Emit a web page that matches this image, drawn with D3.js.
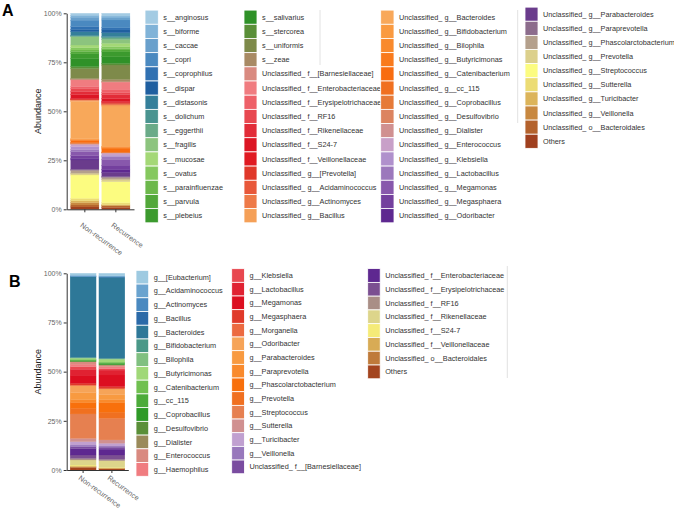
<!DOCTYPE html>
<html>
<head>
<meta charset="utf-8">
<script src="https://cdn.jsdelivr.net/npm/d3@7"></script>
<style>
  html, body { margin: 0; padding: 0; background: #fff; }
  svg { display: block; font-family: "Liberation Sans", Arial, sans-serif; }
</style>
</head>
<body>
<svg id="chart" width="674" height="509"></svg>
<script>
// ---------------- DATA ----------------
const groups = ["Non-recurrence", "Recurrence"];
const yTicks = [0, 0.25, 0.5, 0.75, 1];
const yTickLabels = ["0%", "25%", "50%", "75%", "100%"];

const catsA = ["s__anginosus","s__biforme","s__caccae","s__copri","s__coprophilus","s__dispar","s__distasonis","s__dolichum","s__eggerthii","s__fragilis","s__mucosae","s__ovatus","s__parainfluenzae","s__parvula","s__plebeius",
"s__salivarius","s__stercorea","s__uniformis","s__zeae","Unclassified_ f__[Barnesiellaceae]","Unclassified_ f__Enterobacteriaceae","Unclassified_ f__Erysipelotrichaceae","Unclassified_ f__RF16","Unclassified_ f__Rikenellaceae","Unclassified_ f__S24-7","Unclassified_ f__Veillonellaceae","Unclassified_ g__[Prevotella]","Unclassified_ g__Acidaminococcus","Unclassified_ g__Actinomyces","Unclassified_ g__Bacillus",
"Unclassified_ g__Bacteroides","Unclassified_ g__Bifidobacterium","Unclassified_ g__Bilophila","Unclassified_ g__Butyricimonas","Unclassified_ g__Catenibacterium","Unclassified_ g__cc_115","Unclassified_ g__Coprobacillus","Unclassified_ g__Desulfovibrio","Unclassified_ g__Dialister","Unclassified_ g__Enterococcus","Unclassified_ g__Klebsiella","Unclassified_ g__Lactobacillus","Unclassified_ g__Megamonas","Unclassified_ g__Megasphaera","Unclassified_ g__Odoribacter",
"Unclassified_ g__Parabacteroides","Unclassified_ g__Paraprevotella","Unclassified_ g__Phascolarctobacterium","Unclassified_ g__Prevotella","Unclassified_ g__Streptococcus","Unclassified_ g__Sutterella","Unclassified_ g__Turicibacter","Unclassified_ g__Veillonella","Unclassified_ o__Bacteroidales","Others"];

const colorsA = ["#a3cbe3","#80b3d8","#69a0cc","#4a89c0","#3171b2","#1f5fa0","#347f9a","#4a9490","#6aab88","#8cc47e","#a4d876","#85c85e","#6cb84b","#52a83a","#3c9a2e",
"#2f9128","#5a8f38","#7e8a4a","#a88a64","#d98a80","#f07c80","#ee6068","#e84850","#e22c38","#dc1624","#e01a22","#e0382a","#e8583a","#ee7a48","#f5a058",
"#f8a85a","#fa9a40","#f98a2c","#f97a1c","#f86c10","#f07020","#e67a38","#dc8460","#d09090","#c8a0c8","#b090cc","#9c78bc","#8858ac","#74409e","#5e2890",
"#6a3c8c","#8c6c8c","#b4a08c","#dcd08c","#fcfc80","#ecdc74","#dcb45a","#c88840","#b4622c","#a0401e"];

const nonRecA = [1.0,1.0,1.5,3.2,1.5,1.2,1.8,0.4,0.3,4.3,1.3,1.2,0.8,1.2,2.5,
4.0,1.0,5.0,0.5,0.3,3.3,1.0,1.7,1.5,1.9,0.4,0.2,0.2,0.3,0.5,
19.0,0.3,0.2,0.5,1.0,0.2,0.2,0.2,0.4,1.0,1.5,1.1,2.0,1.4,0.8,
4.8,0.5,1.5,0.9,11.9,1.2,1.0,1.2,1.0,1.2];
const recA = [1.4,1.0,1.0,4.0,1.1,1.4,2.0,0.6,0.8,2.0,1.7,1.0,0.7,1.0,2.5,
3.3,0.9,7.3,1.2,0.2,4.0,1.4,1.0,2.0,1.5,0.6,0.5,0.4,0.3,0.5,
20.5,0.3,0.3,0.8,1.6,0.2,0.1,0.1,0.2,1.0,0.7,1.4,3.0,2.1,1.7,
2.0,0.4,1.0,1.2,10.7,1.0,0.4,0.3,0.8,0.9];

const catsB = ["g__[Eubacterium]","g__Acidaminococcus","g__Actinomyces","g__Bacillus","g__Bacteroides","g__Bifidobacterium","g__Bilophila","g__Butyricimonas","g__Catenibacterium","g__cc_115","g__Coprobacillus","g__Desulfovibrio","g__Dialister","g__Enterococcus","g__Haemophilus",
"g__Klebsiella","g__Lactobacillus","g__Megamonas","g__Megasphaera","g__Morganella","g__Odoribacter","g__Parabacteroides","g__Paraprevotella","g__Phascolarctobacterium","g__Prevotella","g__Streptococcus","g__Sutterella","g__Turicibacter","g__Veillonella","Unclassified_ f__[Barnesiellaceae]",
"Unclassified_ f__Enterobacteriaceae","Unclassified_ f__Erysipelotrichaceae","Unclassified_ f__RF16","Unclassified_ f__Rikenellaceae","Unclassified_ f__S24-7","Unclassified_ f__Veillonellaceae","Unclassified_ o__Bacteroidales","Others"];

const colorsB = ["#9ecae1","#6aa3cf","#4a89c0","#2b6aa8","#2e7898","#4a9888","#80c080","#a0d878","#70c050","#4cab3a","#2f9a28","#5a8f38","#9a8a5a","#d98a80","#f07c80",
"#e84850","#e02232","#dc0e20","#e03a2a","#ec6a40","#f6a458","#f89a40","#f98a2c","#f8700c","#f07020","#e68050","#d09090","#c0a0d0","#9878bc","#7a4ca0",
"#5e2890","#7b4f91","#a98e86","#ddd58b","#f5eb78","#d8ab55","#bf7a3a","#a3441e"];

const nonRecB = [1.0,0.5,0.2,0.1,40.9,0.2,0.3,0.5,0.3,0.4,0.3,0.2,0.1,1.2,1.3,
1.3,3.4,3.7,0.9,0.3,3.5,3.5,1.5,3.0,2.9,12.4,1.7,1.7,0.8,1.0,
3.3,1.7,0.8,2.6,0.5,0.3,0.5,1.2];
const recB = [1.2,0.6,0.1,0.1,41.2,0.2,0.3,1.4,0.3,0.4,0.6,0.2,0.1,0.8,1.0,
0.7,2.5,5.9,0.9,0.3,2.8,2.5,1.5,5.0,3.1,11.0,1.7,1.4,0.6,1.0,
3.0,2.2,0.7,3.4,0.3,0.1,0.3,0.6];

// ---------------- DRAW ----------------
const svg = d3.select("#chart");

function drawPanel(p) {
  const g = svg.append("g");
  const rows = groups.map((grp, gi) => {
    const r = { group: grp };
    p.cats.forEach((c, i) => { r[c] = p.series[gi][i]; });
    return r;
  });
  const keys = p.cats.slice().reverse();
  const stacked = d3.stack().keys(keys).offset(d3.stackOffsetExpand)(rows);
  const color = d3.scaleOrdinal().domain(p.cats).range(p.colors);

  const x = d3.scaleBand().domain(groups).range([p.x0, p.x1])
    .paddingInner(p.padIn).paddingOuter(p.padOut);
  const y = d3.scaleLinear().domain([0, 1]).range([p.yBottom, p.yTop]);

  g.append("g").selectAll("g").data(stacked).join("g")
    .attr("fill", d => color(d.key))
    .attr("stroke", d => color(d.key)).attr("stroke-width", 0.25)
    .selectAll("rect").data(d => d).join("rect")
    .attr("x", d => x(d.data.group))
    .attr("width", x.bandwidth())
    .attr("y", d => y(d[1]))
    .attr("height", d => Math.max(0, y(d[0]) - y(d[1])));

  // y axis
  const yAxis = d3.axisLeft(y).tickValues(yTicks)
    .tickFormat((d, i) => yTickLabels[i]).tickSize(3).tickSizeOuter(0);
  const ya = g.append("g").attr("transform", `translate(${p.x0},0)`).call(yAxis);
  ya.select(".domain").attr("stroke", "#333").attr("stroke-width", 1);
  ya.selectAll(".tick line").attr("stroke", "#333");
  ya.selectAll(".tick text").attr("font-size", 7).attr("fill", "#666")
    .attr("font-family", "Liberation Sans, Arial, sans-serif").attr("x", -5);

  // x axis
  const xAxis = d3.axisBottom(x).tickSize(3).tickSizeOuter(0);
  const xa = g.append("g").attr("transform", `translate(0,${p.yBottom})`).call(xAxis);
  xa.select(".domain").attr("stroke", "#333").attr("stroke-width", 1);
  xa.selectAll(".tick line").attr("stroke", "#333");
  xa.selectAll(".tick text").attr("font-size", 7.2).attr("fill", "#666")
    .attr("font-family", "Liberation Sans, Arial, sans-serif")
    .attr("text-anchor", "start")
    .attr("dy", 0).attr("y", 0).attr("x", 0)
    .attr("transform", `translate(${p.lblDx},${p.lblDy}) rotate(36)`);

  // y title
  g.append("text")
    .attr("transform", `translate(${p.titleX},${(p.yTop + p.yBottom) / 2}) rotate(-90)`)
    .attr("text-anchor", "middle").attr("font-size", 9).attr("fill", "#222")
    .text("Abundance");

  // panel label
  g.append("text").attr("x", p.labelX).attr("y", p.labelY)
    .attr("font-size", 16).attr("font-weight", "bold").attr("fill", "#000")
    .text(p.label);

  // legend
  p.legendCols.forEach(col => {
    const items = p.cats.slice(col.from, col.to);
    const lg = g.append("g");
    items.forEach((c, i) => {
      const cy = col.y0 + i * col.step;
      lg.append("rect").attr("x", col.x).attr("y", cy - col.step / 2)
        .attr("width", col.w).attr("height", col.step)
        .attr("fill", color(c)).attr("stroke", "#fff").attr("stroke-width", 0.8);
      lg.append("text").attr("x", col.x + col.w + 5).attr("y", cy)
        .attr("dy", "0.35em").attr("font-size", 7.3).attr("fill", "#333")
        .text(c);
    });
  });

  // faint separators
  p.seps.forEach(s => {
    g.append("line").attr("x1", s[0]).attr("x2", s[0]).attr("y1", s[1]).attr("y2", s[2])
      .attr("stroke", "#e2e2e2").attr("stroke-width", 1);
  });
}

drawPanel({
  label: "A", labelX: 2, labelY: 16,
  cats: catsA, colors: colorsA, series: [nonRecA, recA],
  x0: 66.7, x1: 134, padIn: 0.09, padOut: 0.13,
  yTop: 13.3, yBottom: 209.3, titleX: 41,
  lblDx: -5, lblDy: 17,
  legendCols: [
    { from: 0, to: 15, x: 145, w: 13.3, y0: 17.2, step: 14.18 },
    { from: 15, to: 30, x: 244, w: 13, y0: 17.2, step: 14.18 },
    { from: 30, to: 45, x: 380.7, w: 13.3, y0: 17.2, step: 14.18 },
    { from: 45, to: 55, x: 525, w: 13, y0: 14.2, step: 14.12 }
  ],
  seps: [[320, 10, 65], [517.7, 10, 123]]
});

drawPanel({
  label: "B", labelX: 9, labelY: 287,
  cats: catsB, colors: colorsB, series: [nonRecB, recB],
  x0: 66.7, x1: 128.3, padIn: 0.1, padOut: 0.12,
  yTop: 273.3, yBottom: 470, titleX: 41,
  lblDx: -5, lblDy: 9,
  legendCols: [
    { from: 0, to: 15, x: 136, w: 12.7, y0: 277.2, step: 13.73 },
    { from: 15, to: 30, x: 231.7, w: 12.7, y0: 275.5, step: 13.67 },
    { from: 30, to: 38, x: 367.7, w: 12.5, y0: 275.5, step: 13.77 }
  ],
  seps: [[507.3, 266, 378]]
});
</script>
</body>
</html>
